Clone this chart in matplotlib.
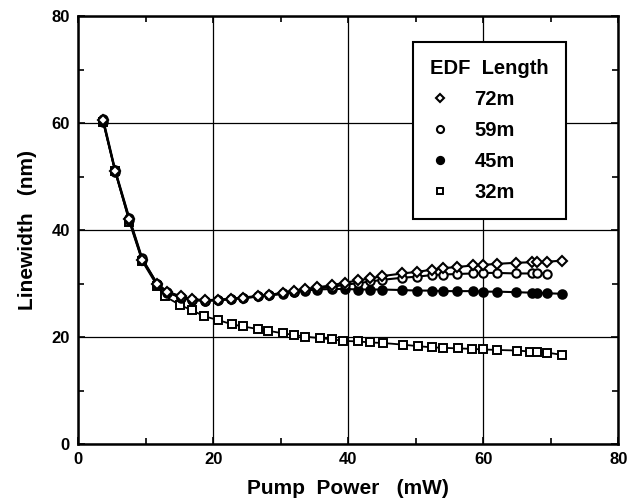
import numpy as np
import matplotlib.pyplot as plt
from matplotlib.ticker import MultipleLocator

plt.rcParams['font.family'] = ['Liberation Sans', 'DejaVu Sans']
plt.rcParams['font.weight'] = 'bold'

#-------------------------------------------------------#
# Donnees
#-------------------------------------------------------#

x_72 = [3.7, 5.5, 7.6, 9.5, 11.7, 13.2, 15.3, 16.9, 18.8, 20.7, 22.7, 24.4, 26.7, 28.3,
        30.4, 32.0, 33.6, 35.4, 37.6, 39.6, 41.5, 43.3, 45.0, 48.0, 50.2, 52.4, 54.1,
        56.1, 58.5, 60.0, 62.1, 64.9, 67.3, 68.0, 69.5, 71.7]
y_72 = [60.5, 51.0, 42.0, 34.5, 30.0, 28.5, 27.6, 27.1, 26.9, 27.0, 27.2, 27.4, 27.7, 27.9,
        28.3, 28.6, 29.0, 29.3, 29.7, 30.2, 30.6, 31.0, 31.4, 31.9, 32.2, 32.6, 32.9,
        33.1, 33.4, 33.5, 33.7, 33.9, 34.0, 34.0, 34.1, 34.3]

x_59 = [3.7, 5.5, 7.6, 9.5, 11.7, 13.2, 15.3, 16.9, 18.8, 20.7, 22.7, 24.4, 26.7, 28.3,
        30.4, 32.0, 33.6, 35.4, 37.6, 39.6, 41.5, 43.3, 45.0, 48.0, 50.2, 52.4, 54.1,
        56.1, 58.5, 60.0, 62.1, 64.9, 67.3, 68.0, 69.5]
y_59 = [60.8, 51.2, 42.2, 34.7, 30.0, 28.4, 27.5, 27.0, 26.8, 26.9, 27.1, 27.3, 27.6, 27.8,
        28.2, 28.5, 28.8, 29.1, 29.4, 29.8, 30.1, 30.4, 30.7, 31.1, 31.3, 31.6, 31.7,
        31.8, 31.9, 32.0, 32.0, 31.9, 31.9, 32.0, 31.8]

x_45 = [3.7, 5.5, 7.6, 9.5, 11.7, 13.2, 15.3, 16.9, 18.8, 20.7, 22.7, 24.4, 26.7, 28.3,
        30.4, 32.0, 33.6, 35.4, 37.6, 39.6, 41.5, 43.3, 45.0, 48.0, 50.2, 52.4, 54.1,
        56.1, 58.5, 60.0, 62.1, 64.9, 67.3, 68.0, 69.5, 71.7]
y_45 = [60.3, 50.9, 41.8, 34.4, 29.9, 28.3, 27.4, 26.9, 26.8, 26.9, 27.1, 27.3, 27.6, 27.8,
        28.1, 28.4, 28.7, 28.9, 29.0, 29.0, 28.9, 28.9, 28.9, 28.8, 28.7, 28.7, 28.6,
        28.6, 28.6, 28.5, 28.5, 28.4, 28.3, 28.3, 28.2, 28.1]

x_32 = [3.7, 5.5, 7.6, 9.5, 11.7, 12.9, 15.1, 16.9, 18.7, 20.7, 22.8, 24.4, 26.7, 28.1,
        30.4, 32.0, 33.6, 35.9, 37.6, 39.3, 41.5, 43.3, 45.2, 48.1, 50.4, 52.4, 54.1,
        56.3, 58.4, 60.0, 62.1, 65.0, 67.0, 68.0, 69.5, 71.6]
y_32 = [60.3, 51.0, 41.5, 34.2, 29.6, 27.6, 26.0, 25.0, 23.9, 23.2, 22.4, 22.0, 21.5, 21.2,
        20.7, 20.4, 20.1, 19.8, 19.6, 19.3, 19.2, 19.0, 18.9, 18.6, 18.3, 18.1, 18.0,
        17.9, 17.8, 17.7, 17.6, 17.5, 17.3, 17.2, 17.1, 16.7]

fig = plt.figure(figsize=(6.4, 5.03), dpi=100)
ax = fig.add_axes([0.122, 0.117, 0.844, 0.851])

ax.plot(x_32, y_32, '-', color='black', lw=1.3, marker='s', ms=5.2,
        mfc='white', mec='black', mew=1.4, label='32m', zorder=3)
ax.plot(x_45, y_45, '-', color='black', lw=1.5, marker='o', ms=6.2,
        mfc='black', mec='black', mew=1.4, label='45m', zorder=3)
ax.plot(x_59, y_59, '-', color='black', lw=1.5, marker='o', ms=6.0,
        mfc='white', mec='black', mew=1.5, label='59m', zorder=3)
ax.plot(x_72, y_72, '-', color='black', lw=1.5, marker='D', ms=4.8,
        mfc='white', mec='black', mew=1.5, label='72m', zorder=3)

ax.set_xlim(0, 80)
ax.set_ylim(0, 80)
ax.xaxis.set_major_locator(MultipleLocator(20))
ax.yaxis.set_major_locator(MultipleLocator(20))
ax.xaxis.set_minor_locator(MultipleLocator(10))
ax.yaxis.set_minor_locator(MultipleLocator(10))
ax.tick_params(which='both', direction='in', top=True, right=True)
ax.tick_params(which='major', length=5, width=1.2, labelsize=12, pad=6)
ax.tick_params(which='minor', length=4, width=1.2)
for lab in ax.get_xticklabels() + ax.get_yticklabels():
    lab.set_fontweight('bold')
ax.grid(True, which='major', color='black', lw=0.9)
for sp in ax.spines.values():
    sp.set_linewidth(1.8)

ax.set_xlabel("Pump  Power   (mW)", fontsize=15, fontweight='bold', labelpad=8)
ax.set_ylabel("Linewidth   (nm)", fontsize=15, fontweight='bold', labelpad=10)

# ordre de la legende comme sur la figure
handles, labels = ax.get_legend_handles_labels()
handles, labels = handles[::-1], labels[::-1]
leg = ax.legend(handles, labels, loc='upper left', bbox_to_anchor=(0.62, 0.94),
                borderaxespad=0, title="EDF  Length",
                prop={'size': 14.5, 'weight': 'bold'},
                title_fontproperties={'size': 14.5, 'weight': 'bold'},
                fancybox=False, framealpha=1, edgecolor='black',
                handlelength=1.0, handletextpad=1.2, labelspacing=0.6,
                borderpad=0.85, markerscale=0.85)
leg.get_frame().set_linewidth(1.5)
leg._legend_box.align = 'left'
for h in leg.legend_handles:
    h.set_linestyle('none')

fig.savefig("out.png", dpi=100)
